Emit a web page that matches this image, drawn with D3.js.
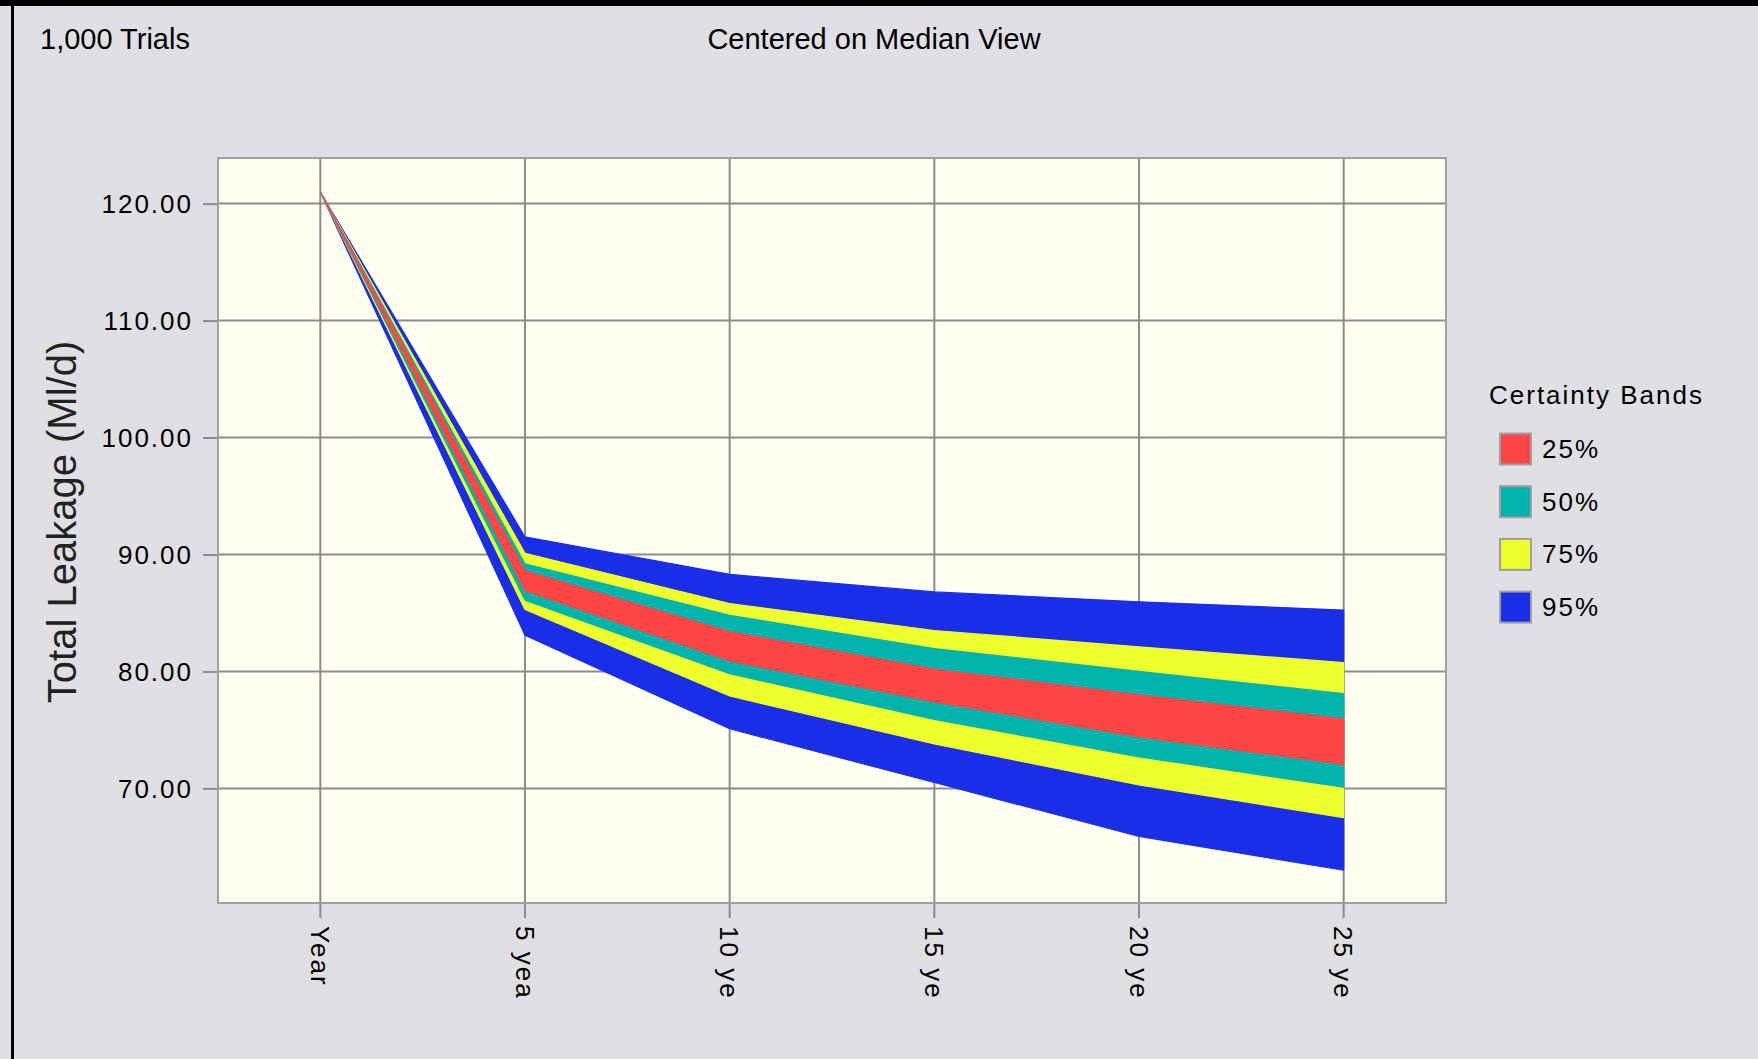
<!DOCTYPE html>
<html>
<head>
<meta charset="utf-8">
<script src="https://cdn.jsdelivr.net/npm/d3@7"></script>
<style>
  html, body { margin: 0; padding: 0; background: #e0dfe3; }
  svg { display: block; }
  text { font-family: "Liberation Sans", Arial, sans-serif; fill: #000; }
</style>
</head>
<body>
<svg id="chart" width="1758" height="1059"></svg>
<script>
// ---- Data ----
const categories = ["Year", "5 yea", "10 ye", "15 ye", "20 ye", "25 ye"];
const yTicks = [70, 80, 90, 100, 110, 120];
const bandLabels = ["25%", "50%", "75%", "95%"];
const bandColors = ["#fc4646", "#00b4ad", "#eeff2c", "#1a2ee8"];

const upper95 = [121.0, 91.5, 88.3, 86.8, 85.95, 85.25];
const upper75 = [121.0, 90.1, 85.8, 83.5, 82.1, 80.75];
const upper50 = [121.0, 89.2, 84.8, 81.95, 80.0, 78.1];
const upper25 = [121.0, 88.6, 83.4, 80.2, 78.0, 75.95];
const lower25 = [121.0, 86.9, 80.9, 77.4, 74.4, 72.05];
const lower50 = [121.0, 86.1, 79.8, 75.9, 72.7, 70.1];
const lower75 = [121.0, 85.3, 77.9, 73.8, 70.3, 67.5];
const lower95 = [121.0, 83.1, 75.1, 70.5, 65.9, 63.0];

const titleLeft = "1,000 Trials";
const titleCenter = "Centered on Median View";
const yTitle = "Total Leakage (Ml/d)";
const legendTitle = "Certainty Bands";

// ---- Layout ----
const W = 1758, H = 1059;
const plot = { left: 218, right: 1446, top: 158, bottom: 903 };
const svg = d3.select("#chart");

// page frame
svg.append("rect").attr("x", 0).attr("y", 0).attr("width", W).attr("height", H).attr("fill", "#e0dfe3");
svg.append("rect").attr("x", 0).attr("y", 0).attr("width", W).attr("height", 6).attr("fill", "#000");
svg.append("rect").attr("x", 11).attr("y", 0).attr("width", 3).attr("height", H).attr("fill", "#000");

const x = d3.scalePoint().domain(categories).range([plot.left, plot.right]).padding(0.5);
const y = d3.scaleLinear().domain([60.2, 123.9]).range([plot.bottom, plot.top]);

// plot background
svg.append("rect")
  .attr("x", plot.left).attr("y", plot.top)
  .attr("width", plot.right - plot.left).attr("height", plot.bottom - plot.top)
  .attr("fill", "#fffff2");

// grid (horizontal) with ticks extending left
const yAxis = d3.axisLeft(y).tickValues(yTicks).tickFormat(d3.format(".2f"))
  .tickSize(-(plot.right - plot.left) - 15).tickPadding(10);
const gy = svg.append("g").attr("transform", `translate(${plot.right},0)`).call(yAxis);
gy.select(".domain").remove();
gy.selectAll(".tick line").attr("stroke", "#8c8c8c").attr("stroke-width", 2)
  .attr("x1", -(plot.right - plot.left) - 15).attr("x2", -(plot.right - plot.left));
gy.selectAll(".tick text").remove();
// full horizontal grid lines inside plot
svg.append("g").selectAll("line").data(yTicks).join("line")
  .attr("x1", plot.left).attr("x2", plot.right)
  .attr("y1", d => y(d)).attr("y2", d => y(d))
  .attr("stroke", "#8c8c8c").attr("stroke-width", 2);
// y tick labels
svg.append("g").selectAll("text").data(yTicks).join("text")
  .attr("x", 193).attr("y", d => y(d)).attr("dy", "0.36em")
  .attr("text-anchor", "end")
  .style("font-size", "26px").style("letter-spacing", "2px")
  .text(d3.format(".2f"));

// vertical grid lines with ticks below
const xAxis = d3.axisBottom(x).tickSize(0);
svg.append("g").selectAll("line").data(categories).join("line")
  .attr("x1", d => x(d)).attr("x2", d => x(d))
  .attr("y1", plot.top).attr("y2", plot.bottom + 15)
  .attr("stroke", "#8c8c8c").attr("stroke-width", 2);

// x tick labels rotated
svg.append("g").selectAll("text").data(categories).join("text")
  .attr("transform", d => `translate(${x(d)},926) rotate(90)`)
  .attr("dy", "0.36em")
  .attr("text-anchor", "start")
  .style("font-size", "26px").style("letter-spacing", "2px")
  .text(d => d);

// bands
const bands = [
  { label: "95%", color: bandColors[3], hi: upper95, lo: lower95 },
  { label: "75%", color: bandColors[2], hi: upper75, lo: lower75 },
  { label: "50%", color: bandColors[1], hi: upper50, lo: lower50 },
  { label: "25%", color: bandColors[0], hi: upper25, lo: lower25 }
];
const area = d3.area()
  .x(d => x(d.c))
  .y0(d => y(d.lo))
  .y1(d => y(d.hi));
svg.append("g").selectAll("path").data(bands).join("path")
  .attr("d", b => area(categories.map((c, i) => ({ c, hi: b.hi[i], lo: b.lo[i] }))))
  .attr("fill", b => b.color)
  .attr("stroke", b => b.color)
  .attr("stroke-width", 1.2)
  .attr("stroke-linejoin", "round");

// plot border
svg.append("rect")
  .attr("x", plot.left).attr("y", plot.top)
  .attr("width", plot.right - plot.left).attr("height", plot.bottom - plot.top)
  .attr("fill", "none").attr("stroke", "#a0a0a0").attr("stroke-width", 2);

// titles
svg.append("text").attr("x", 40).attr("y", 49)
  .style("font-size", "29px").text(titleLeft);
svg.append("text").attr("x", 874).attr("y", 49).attr("text-anchor", "middle")
  .style("font-size", "29px").text(titleCenter);
svg.append("text")
  .attr("transform", "translate(62,522) rotate(-90)")
  .attr("dy", "0.36em").attr("text-anchor", "middle")
  .style("font-size", "40px").style("fill", "#222").text(yTitle);

// legend
const lg = svg.append("g");
lg.append("text").attr("x", 1489).attr("y", 404)
  .style("font-size", "26px").style("letter-spacing", "2px").text(legendTitle);
const legendY = d3.scalePoint().domain(bandLabels).range([448.5, 606.6]);
const rows = lg.selectAll("g.row").data(bandLabels).join("g").attr("class", "row")
  .attr("transform", d => `translate(0,${legendY(d)})`);
rows.append("rect")
  .attr("x", 1500).attr("y", -15).attr("width", 31).attr("height", 31)
  .attr("fill", (d, i) => bandColors[i])
  .attr("stroke", "#a0a0a0").attr("stroke-width", 2);
rows.append("text").attr("x", 1542).attr("y", 0).attr("dy", "0.36em")
  .style("font-size", "26px").style("letter-spacing", "2px").text(d => d);
</script>
</body>
</html>
